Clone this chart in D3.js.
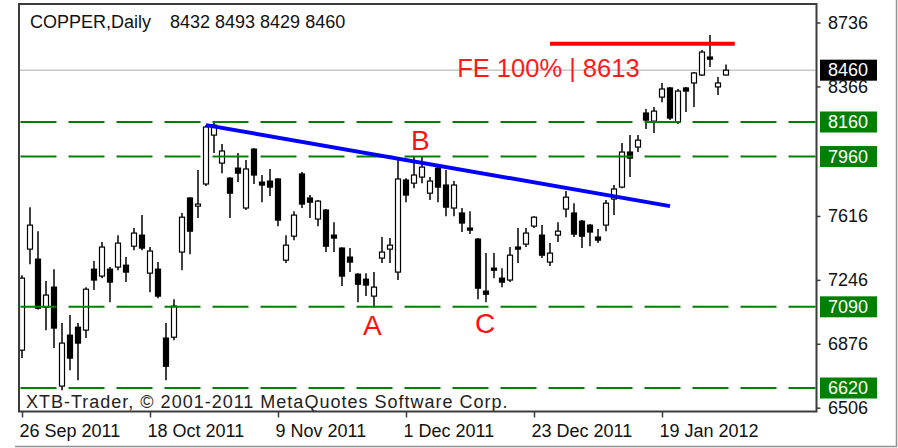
<!DOCTYPE html>
<html>
<head>
<meta charset="utf-8">
<script src="https://cdn.jsdelivr.net/npm/d3@7"></script>
<style>
	body { margin: 0; background: #fff; }
	svg { display: block; }
	text { font-family: "Liberation Sans", Arial, sans-serif; }
</style>
</head>
<body>
<div id="chart"></div>
<script>
// daily OHLC (bar 0 = 26 Sep 2011)
const opens = [6839, 7424, 7366, 7088, 7204, 6631, 6926, 6972, 6955, 7308,
	7268, 7308, 7320, 7331, 7441, 7505, 7285, 7308, 6909, 6914,
	7407, 7720, 7673, 7801, 8084, 7922, 7835, 7893, 7662, 8003,
	7812, 7818, 7830, 7360, 7499, 7859, 7720, 7598, 7650, 7505,
	7430, 7378, 7279, 7250, 7152, 7372, 7424, 7291, 7824, 7806,
	7841, 7748, 7893, 7795, 7662, 7633, 7546, 7482, 7181, 7314,
	7256, 7245, 7436, 7453, 7557, 7505, 7349, 7505, 7656, 7633,
	7586, 7563, 7494, 7563, 7714, 7783, 7986, 8015, 8212, 8165,
	8304, 8357, 8160, 8357, 8386, 8432, 8536, 8363, 8432];
const highs = [7273, 7667, 7528, 7239, 7308, 6996, 7042, 6996, 7204, 7355,
	7465, 7320, 7505, 7378, 7546, 7621, 7436, 7349, 6996, 7134,
	7633, 7725, 7882, 8142, 8160, 8032, 7840, 7980, 7940, 8008,
	7853, 7888, 7835, 7505, 7644, 7870, 7737, 7708, 7656, 7580,
	7435, 7430, 7285, 7285, 7291, 7494, 7488, 7957, 7835, 7957,
	7957, 7841, 7911, 7882, 7818, 7662, 7644, 7488, 7401, 7401,
	7314, 7436, 7546, 7546, 7615, 7563, 7459, 7580, 7760, 7690,
	7592, 7569, 7540, 7708, 7795, 8038, 8084, 8084, 8235, 8247,
	8386, 8363, 8351, 8363, 8449, 8577, 8664, 8420, 8493];
const lows = [6793, 7337, 7075, 6955, 6851, 6607, 6723, 6665, 6909, 7187,
	7256, 7117, 7302, 7233, 7418, 7418, 7175, 7140, 6665, 6897,
	7302, 7395, 7604, 7789, 7980, 7864, 7604, 7812, 7650, 7801,
	7696, 7731, 7557, 7343, 7476, 7662, 7604, 7557, 7407, 7407,
	7210, 7291, 7117, 7152, 7088, 7343, 7343, 7245, 7696, 7777,
	7806, 7708, 7696, 7615, 7615, 7523, 7511, 7134, 7117, 7256,
	7204, 7233, 7343, 7436, 7546, 7372, 7326, 7465, 7609, 7494,
	7430, 7441, 7459, 7528, 7621, 7777, 7841, 7986, 8119, 8096,
	8275, 8171, 8148, 8218, 8247, 8426, 8478, 8316, 8429];
const closes = [7256, 7563, 7082, 7158, 6967, 6880, 6793, 6880, 7192, 7245,
	7436, 7233, 7459, 7291, 7517, 7430, 7413, 7152, 6746, 7094,
	7609, 7528, 7685, 8131, 8142, 7992, 7748, 7864, 7888, 7853,
	7795, 7783, 7592, 7447, 7621, 7685, 7696, 7702, 7441, 7488,
	7268, 7349, 7221, 7216, 7204, 7407, 7447, 7830, 7737, 7853,
	7899, 7818, 7783, 7667, 7795, 7575, 7534, 7198, 7163, 7302,
	7233, 7389, 7424, 7517, 7609, 7389, 7401, 7528, 7725, 7511,
	7499, 7523, 7476, 7690, 7772, 7986, 7951, 8055, 8171, 8223,
	8351, 8183, 8339, 8339, 8444, 8565, 8524, 8386, 8460];

const dateLabels = ["26 Sep 2011", "18 Oct 2011", "9 Nov 2011", "1 Dec 2011", "23 Dec 2011", "19 Jan 2012"];
const dateLabelBars = [0, 16, 32, 48, 64, 80];
const priceTicks = [8736, 8366, 7616, 7246, 6876, 6506];
const levels = [8160, 7960, 7090, 6620];
const lastPrice = 8460;
const trendLine = [{bar: 23, price: 8142}, {bar: 81, price: 7673}];
const targetLine = [{bar: 66, price: 8613}, {bar: 89.1, price: 8613}];
const waveLabels = [
	{text: "A", bar: 43.8, price: 6926},
	{text: "B", bar: 49.8, price: 7997},
	{text: "C", bar: 57.9, price: 6937}
];
const targetLabel = {text: "FE 100% | 8613", bar: 54.4, price: 8420};

const width = 898;
const height = 448;
const plot = {left: 19, top: 4, right: 816.5, bottom: 411.5};
const last = opens.length - 1;

let svg = d3.select("#chart")
	.append("svg")
	.attr("width", width)
	.attr("height", height);

svg.append("rect")
	.attr("width", width)
	.attr("height", height)
	.style("fill", "#fff");

let x = d3.scaleLinear().domain([0, 88]).range([22, 726]);
let y = d3.scaleLinear().domain([6506, 8736]).range([407.7, 22.5]);

svg.append("clipPath")
	.attr("id", "plot-clip")
	.append("rect")
	.attr("x", plot.left + 1)
	.attr("y", plot.top + 1)
	.attr("width", plot.right - plot.left - 2)
	.attr("height", plot.bottom - plot.top - 2);

let chart = svg.append("g").attr("clip-path", "url(#plot-clip)");

// bid line
chart.append("line")
	.attr("x1", plot.left)
	.attr("x2", plot.right)
	.attr("y1", y(lastPrice))
	.attr("y2", y(lastPrice))
	.style("stroke", "#c8c8c8")
	.style("stroke-width", 1.5);

// candles
let bars = d3.range(opens.length).map(i => ({
	i: i, o: opens[i], h: highs[i], l: lows[i], c: closes[i]
}));

let candle = chart.selectAll("g.candle")
	.data(bars)
	.enter().append("g")
	.attr("class", "candle");

candle.append("line")
	.attr("x1", d => x(d.i))
	.attr("x2", d => x(d.i))
	.attr("y1", d => y(d.h))
	.attr("y2", d => y(d.l))
	.style("stroke", "#000")
	.style("stroke-width", 1.5);

candle.append("rect")
	.attr("x", d => x(d.i) - 2.5)
	.attr("y", d => y(Math.max(d.o, d.c)))
	.attr("width", 5)
	.attr("height", d => Math.max(Math.abs(y(d.o) - y(d.c)), 1))
	.style("fill", d => d.c >= d.o ? "#fff" : "#000")
	.style("stroke", "#000")
	.style("stroke-width", 1.2);

// horizontal levels
chart.selectAll("line.level")
	.data(levels)
	.enter().append("line")
	.attr("class", "level")
	.attr("x1", plot.left + 1.5)
	.attr("x2", plot.right)
	.attr("y1", d => y(d))
	.attr("y2", d => y(d))
	.style("stroke", "#008000")
	.style("stroke-width", 2)
	.style("stroke-dasharray", "36,12");

// trend line and target line
let line = d3.line()
	.x(d => x(d.bar))
	.y(d => y(d.price));

chart.append("path")
	.attr("d", line(trendLine))
	.style("stroke", "#0000ff")
	.style("stroke-width", 4)
	.style("fill", "none");

chart.append("path")
	.attr("d", line(targetLine))
	.style("stroke", "#ff0000")
	.style("stroke-width", 4)
	.style("fill", "none");

chart.selectAll("text.wave")
	.data(waveLabels)
	.enter().append("text")
	.attr("class", "wave")
	.attr("x", d => x(d.bar))
	.attr("y", d => y(d.price))
	.attr("text-anchor", "middle")
	.style("font-size", "28px")
	.style("fill", "#ff1010")
	.text(d => d.text);

chart.append("text")
	.attr("x", x(targetLabel.bar))
	.attr("y", y(targetLabel.price))
	.style("font-size", "25.5px")
	.style("fill", "#ff1a1a")
	.text(targetLabel.text);

// title and watermark
svg.append("text")
	.attr("x", 30)
	.attr("y", 28)
	.style("font-size", "18px")
	.style("fill", "#111")
	.text("COPPER,Daily");

svg.append("text")
	.attr("x", 170)
	.attr("y", 28)
	.style("font-size", "18px")
	.style("fill", "#111")
	.text([opens[last], highs[last], lows[last], closes[last]].join(" "));

svg.append("text")
	.attr("x", 26)
	.attr("y", 408)
	.style("font-size", "18px")
	.style("letter-spacing", "1px")
	.style("fill", "#222")
	.text("XTB-Trader, \u00a9 2001-2011 MetaQuotes Software Corp.");

// frame
svg.append("rect")
	.attr("x", plot.left)
	.attr("y", plot.top)
	.attr("width", plot.right - plot.left)
	.attr("height", plot.bottom - plot.top)
	.style("fill", "none")
	.style("stroke", "#3c3c3c")
	.style("stroke-width", 2);

// price axis
let yAxis = d3.axisRight(y)
	.tickValues(priceTicks)
	.tickSize(4)
	.tickPadding(7.5)
	.tickFormat(d3.format("d"));

let yAxisG = svg.append("g")
	.attr("transform", "translate(" + plot.right + ",0)")
	.call(yAxis);

yAxisG.select(".domain").remove();
yAxisG.selectAll("line").style("stroke", "#3c3c3c").style("stroke-width", 1.5);
yAxisG.selectAll("text")
	.style("font-size", "18px")
	.style("font-family", "Liberation Sans, Arial, sans-serif")
	.style("fill", "#111");

// date axis
let xAxis = d3.axisBottom(x)
	.tickValues(dateLabelBars)
	.tickSize(6)
	.tickPadding(6.7)
	.tickFormat((d, i) => dateLabels[i]);

let xAxisG = svg.append("g")
	.attr("transform", "translate(0," + plot.bottom + ")")
	.call(xAxis);

xAxisG.select(".domain").remove();
xAxisG.selectAll("line").style("stroke", "#3c3c3c").style("stroke-width", 1.5);
xAxisG.selectAll("text")
	.attr("text-anchor", "start")
	.attr("x", -3)
	.style("font-size", "18px")
	.style("font-family", "Liberation Sans, Arial, sans-serif")
	.style("fill", "#111");

// price boxes on the scale
let boxes = levels.map(v => ({v: v, fill: "#008000"}))
	.concat([{v: lastPrice, fill: "#000"}]);

let box = svg.selectAll("g.box")
	.data(boxes)
	.enter().append("g")
	.attr("class", "box")
	.attr("transform", d => "translate(820," + y(d.v) + ")");

box.append("rect")
	.attr("y", -10.5)
	.attr("width", 57)
	.attr("height", 21)
	.style("fill", d => d.fill);

box.append("text")
	.attr("x", 8)
	.attr("dy", "0.35em")
	.style("font-size", "18px")
	.style("fill", "#fff")
	.text(d => d.v);

// window edge
svg.append("path")
	.attr("d", "M15," + (height - 1.5) + "H" + (width - 1.5) + "V0")
	.style("stroke", "#909090")
	.style("stroke-width", 1.5)
	.style("fill", "none");
</script>
</body>
</html>
